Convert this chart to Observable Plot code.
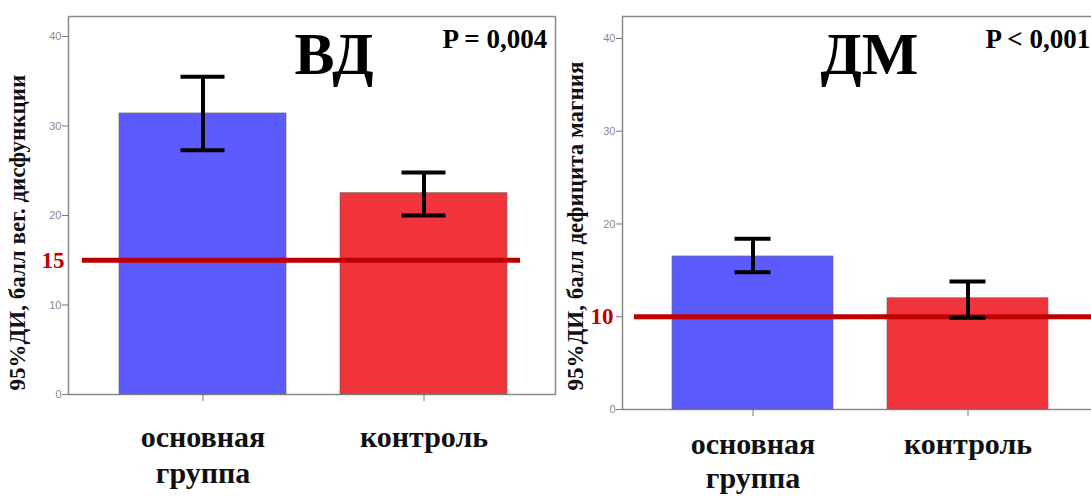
<!DOCTYPE html>
<html>
<head>
<meta charset="utf-8">
<script src="https://cdn.jsdelivr.net/npm/d3@7"></script>
<script src="https://cdn.jsdelivr.net/npm/@observablehq/plot@0.6"></script>
<style>
  html, body { margin: 0; padding: 0; background: #fff; }
  #wrap { position: relative; width: 1091px; height: 497px; overflow: hidden; background: #fff; }
  #wrap > div, #wrap > svg { position: absolute; top: 0; }
</style>
</head>
<body>
<div id="wrap"></div>
<script>
// ---- data ----
const groups = ["основная группа", "контроль"];
const groupLabels = ["основная\nгруппа", "контроль"];
const barColors = ["#5b5bff", "#f2343d"];
const yTicks = [0, 10, 20, 30, 40];

const vdTitle = "ВД";
const vdP = "P = 0,004";
const vdYLabel = "95%ДИ, балл вег. дисфункции";
const vdMean = [31.4, 22.5];
const vdLow = [27.3, 20.0];
const vdHigh = [35.5, 24.8];
const vdThreshold = 15;

const dmTitle = "ДМ";
const dmP = "P < 0,001";
const dmYLabel = "95%ДИ, балл дефицита магния";
const dmMean = [16.5, 12.0];
const dmLow = [14.8, 9.9];
const dmHigh = [18.4, 13.8];
const dmThreshold = 10;

function rows(mean, low, high) {
  return groups.map((g, i) => ({group: g, label: groupLabels[i], color: barColors[i], mean: mean[i], low: low[i], high: high[i]}));
}

function panel(cfg) {
  const data = rows(cfg.mean, cfg.low, cfg.high);
  return Plot.plot({
    width: cfg.width,
    height: 497,
    marginLeft: cfg.marginLeft,
    marginRight: cfg.marginRight,
    marginTop: 16,
    marginBottom: cfg.marginBottom,
    style: {fontFamily: "Liberation Serif", background: "transparent", overflow: "visible"},
    x: {type: "band", domain: groups, range: cfg.xRange, paddingInner: cfg.pad, paddingOuter: cfg.pad / 2, axis: null},
    y: {domain: [0, cfg.yMax], axis: null},
    marks: [
      Plot.frame({stroke: "#8a8a8a", strokeWidth: 1.5}),
      Plot.barY(data, {x: "group", y: "mean", fill: "color", stroke: "#666", strokeOpacity: 0.6, strokeWidth: 1}),
      Plot.ruleY([cfg.threshold], {stroke: "#c00000", strokeWidth: 5, insetLeft: cfg.ruleInsetLeft, insetRight: cfg.ruleInsetRight}),
      Plot.ruleX(data, {x: "group", y1: "low", y2: "high", stroke: "#000", strokeWidth: 4}),
      Plot.tickY(data, {x: "group", y: "high", stroke: "#000", strokeWidth: 4, insetLeft: cfg.capInset, insetRight: cfg.capInset}),
      Plot.tickY(data, {x: "group", y: "low", stroke: "#000", strokeWidth: 4, insetLeft: cfg.capInset, insetRight: cfg.capInset}),
      Plot.axisY({ticks: yTicks, tickSize: 6, tickPadding: 1, fontSize: 11, fill: "#8a8a8a", stroke: "#777", label: null,
        fontFamily: "Liberation Sans", tickFormat: d => d === cfg.threshold ? "" : String(d)}),
      Plot.axisX({tickSize: 7, tickFormat: () => "", stroke: "#777", label: null}),
      Plot.text(data, {x: "group", text: "label", frameAnchor: "bottom", lineAnchor: "top", dy: cfg.labelDy,
        fontSize: 30, fontWeight: "bold", lineHeight: cfg.labelLineHeight, fill: "#111"}),
      Plot.text([cfg.threshold], {y: d => d, text: d => String(d), frameAnchor: "left", textAnchor: "end", dx: cfg.threshDx,
        fontSize: 23, fontWeight: "bold", fill: "#c00000"}),
      Plot.text([cfg.yLabel], {frameAnchor: "bottom-left", rotate: -90, textAnchor: "start", lineAnchor: "middle",
        dx: cfg.yLabelDx, dy: cfg.yLabelDy, fontSize: 23, fontWeight: "bold", fill: "#111"}),
      Plot.text([cfg.title], {frameAnchor: "top-left", textAnchor: "start", lineAnchor: "bottom",
        dx: cfg.titleDx, dy: 57, fontSize: 60, fontWeight: "bold", fill: "#000"}),
      Plot.text([cfg.p], {frameAnchor: "top-left", textAnchor: "start", lineAnchor: "bottom",
        dx: cfg.pDx, dy: 31, fontSize: 27, fontWeight: "bold", fill: "#000"})
    ]
  });
}

const left = panel({
  width: 560, marginLeft: 68, marginRight: 5, marginBottom: 103, yMax: 42.23,
  xRange: [92.5, 534.5], pad: 0.244, capInset: 61.5,
  mean: vdMean, low: vdLow, high: vdHigh, threshold: vdThreshold,
  ruleInsetLeft: 14, ruleInsetRight: 35, labelDy: 26, labelLineHeight: 1.22, threshDx: -4,
  yLabel: vdYLabel, yLabelDx: -51, yLabelDy: -4, title: vdTitle, titleDx: 226, p: vdP, pDx: 374
});
left.style.left = "0px";

const right = panel({
  width: 560, marginLeft: 62, marginRight: 10, marginBottom: 88, yMax: 42.37,
  xRange: [85.5, 515.5], pad: 0.251, capInset: 62.5,
  mean: dmMean, low: dmLow, high: dmHigh, threshold: dmThreshold,
  ruleInsetLeft: 12, ruleInsetRight: 0, labelDy: 20, labelLineHeight: 1.15, threshDx: -9,
  yLabel: dmYLabel, yLabelDx: -47, yLabelDy: -19, title: dmTitle, titleDx: 198, p: dmP, pDx: 363
});
right.style.left = "560px";

const wrap = document.getElementById("wrap");
wrap.appendChild(left);
wrap.appendChild(right);
</script>
</body>
</html>
